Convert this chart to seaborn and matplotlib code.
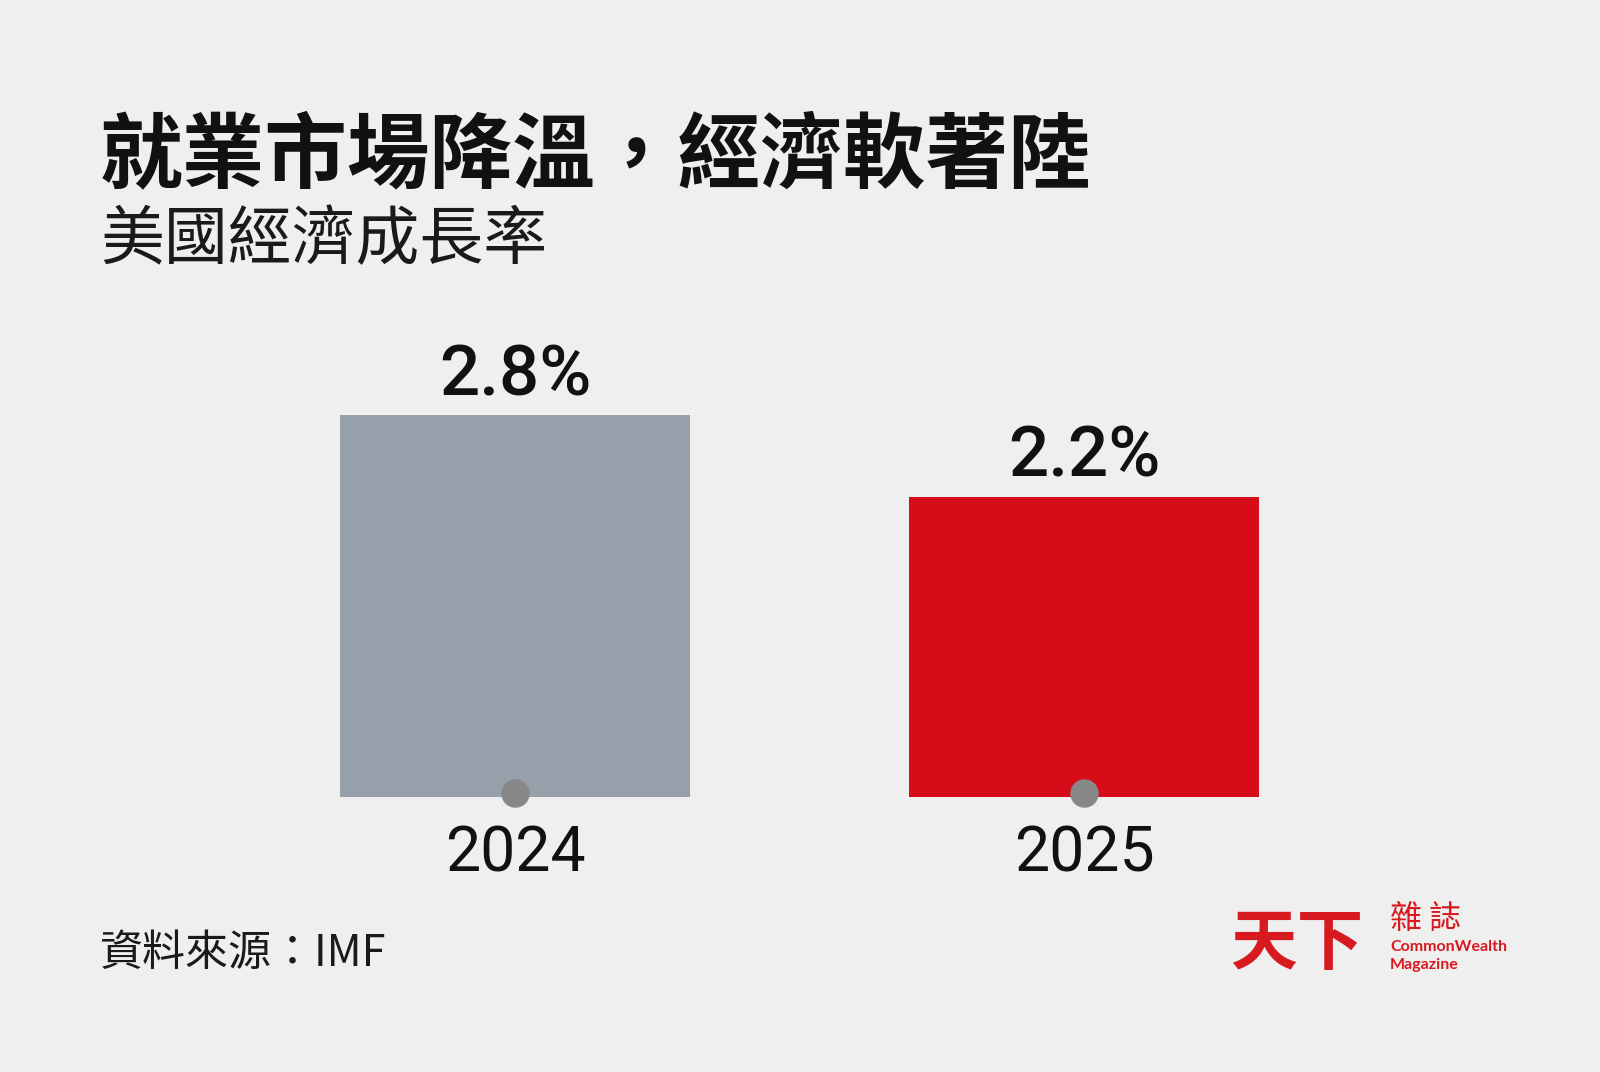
import matplotlib
matplotlib.use("Agg")
import matplotlib.pyplot as plt
import matplotlib.transforms as mtransforms
from matplotlib import font_manager
import seaborn as sns
import pandas as pd

# ---- data ----
years = ["2024", "2025"]
growth = [2.8, 2.2]
value_labels = ["2.8%", "2.2%"]
bar_colors = ["#96A0AA", "#D70C19"]
title = "就業市場降溫，經濟軟著陸"
subtitle = "美國經濟成長率"
source = "資料來源：IMF"

BG = "#EFEFEF"
sns.set_theme(style="white")
plt.rcParams["font.family"] = ["Noto Sans CJK TC", "DejaVu Sans"]

names = {f.name for f in font_manager.fontManager.ttflist}
num_font = "Liberation Sans Narrow" if "Liberation Sans Narrow" in names else "Roboto"

W, H = 1600, 1072
fig = plt.figure(figsize=(W / 100, H / 100), dpi=100, facecolor=BG)

# axes placed so that categories sit at x=515 / 1084 px and baseline at y=797 px
ax = fig.add_axes([230.5 / W, (H - 797) / H, 1138 / W, 477.4 / H])
ax.set_facecolor(BG)
df = pd.DataFrame({"year": years, "growth": growth})
sns.barplot(data=df, x="year", y="growth", hue="year", palette=bar_colors,
            width=0.615, legend=False, ax=ax, saturation=1, linewidth=0)
ax.set_xlim(-0.5, 1.5)
ax.set_ylim(0, 3.5)
ax.axis("off")

for i, (v, lab) in enumerate(zip(growth, value_labels)):
    ax.annotate(lab, (i, v), xytext=(0, 20), textcoords="offset pixels",
                ha="center", va="baseline", fontsize=51, fontweight="medium",
                family=[num_font, "DejaVu Sans"], color="#111111")
    ax.annotate(years[i], (i, 0), xytext=(0, -75), textcoords="offset pixels",
                ha="center", va="baseline", fontsize=45,
                family=[num_font, "DejaVu Sans"], color="#111111")

dot_tr = mtransforms.offset_copy(ax.transData, fig=fig, x=0, y=4, units="dots")
ax.scatter(range(len(years)), [0] * len(years), s=420, color="#888888",
           transform=dot_tr, zorder=5, clip_on=False, linewidths=0)

# ---- texts ----
def px(x, y):
    return x / W, 1 - y / H

fig.text(*px(100, 181), title, fontsize=59.5, fontweight="black",
         ha="left", va="baseline", color="#111111")
fig.text(*px(100, 259), subtitle, fontsize=46, fontweight="light",
         ha="left", va="baseline", color="#1a1a1a")
fig.text(*px(100, 966), source, fontsize=31,
         ha="left", va="baseline", color="#1a1a1a")

# ---- logo ----
RED = "#D71920"
fig.text(*px(1230, 964), "天下", fontsize=48, fontweight="black",
         ha="left", va="baseline", color=RED)
fig.text(*px(1390, 928), "雜 誌", fontsize=23,
         ha="left", va="baseline", color=RED)
fig.text(*px(1390, 951), "CommonWealth", fontsize=11.5, fontweight="bold",
         family=["Lato", "DejaVu Sans"], ha="left", va="baseline", color=RED)
fig.text(*px(1390, 969), "Magazine", fontsize=11.5, fontweight="bold",
         family=["Lato", "DejaVu Sans"], ha="left", va="baseline", color=RED)

fig.savefig("out.png", dpi=100, facecolor=BG)
